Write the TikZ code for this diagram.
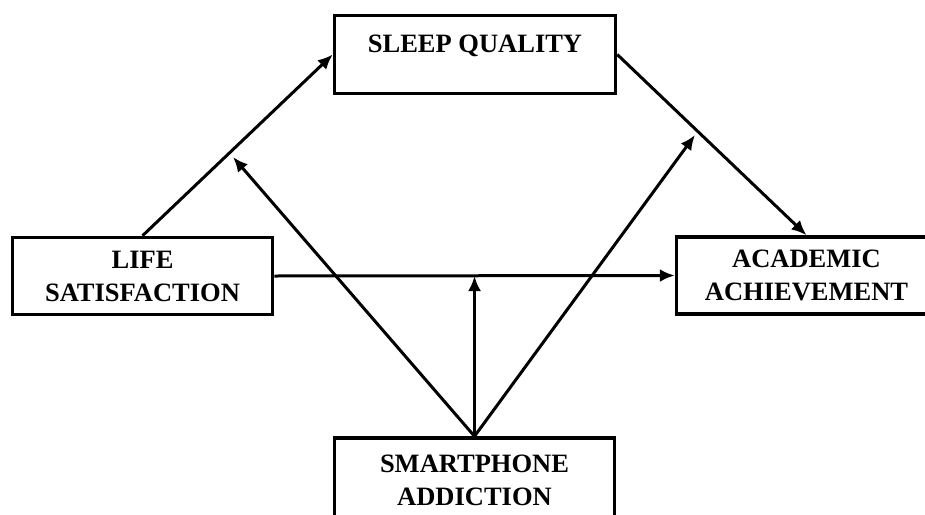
\documentclass[tikz,border=0pt]{standalone}
\usepackage{fontspec}
\setmainfont{Liberation Serif}
\usetikzlibrary{arrows.meta}
\tikzset{%
  model/.style = {
    x=1pt, y=-1pt,
    var/.style = {shape=rectangle, draw, line width=3.5pt,
      align=center, font=\bfseries\fontsize{26.5}{33}\selectfont,
      minimum width=260pt, minimum height=77pt, inner sep=0pt},
    effect/.style = {draw, line width=3pt,
      -{Latex[length=15pt,width=13pt]}}
  }
}
\begin{document}
\begin{tikzpicture}[model]
  \useasboundingbox (0,0) rectangle (925,514);
  \node[var, minimum width=281pt, minimum height=78pt, text depth=21pt]
    (sleep) at (475,54.5) {SLEEP QUALITY};
  \node[var] (life) at (142.5,276) {LIFE\\SATISFACTION};
  \node[var] (acad) at (806.5,275.5) {ACADEMIC\\ACHIEVEMENT};
  \node[var, minimum width=280pt, minimum height=84pt]
    (phone) at (474.5,480) {SMARTPHONE\\ADDICTION};
  % moderation points
  \coordinate (m1) at (233,157);
  \coordinate (m2) at (695,135);
  \coordinate (m3) at (phone.north |- life.east);
  % paths
  \draw[effect] (life.north) -- (sleep.west);
  \draw[effect] (sleep.east) -- (acad.north);
  \draw[effect] (life.east) -- (acad.west);
  \draw[effect] (phone.north) -- (m1);
  \draw[effect] (phone.north) -- (m2);
  \draw[effect] (phone.north) -- (m3);
\end{tikzpicture}
\end{document}
